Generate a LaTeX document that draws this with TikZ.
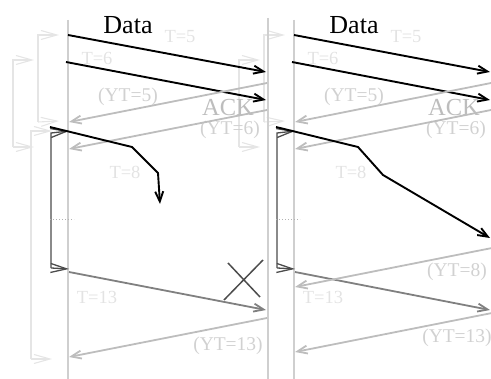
\documentclass[tikz,border=0pt]{standalone}
\usepackage{fontspec}
\setmainfont{Liberation Serif}
\usetikzlibrary{arrows.meta}
\definecolor{vlc}{gray}{0.81}
\definecolor{ackc}{gray}{0.74}
\definecolor{faintc}{gray}{0.90}
\definecolor{midc}{gray}{0.50}
\definecolor{darkc}{gray}{0.30}
\definecolor{txtl}{gray}{0.89}
\definecolor{txtm}{gray}{0.82}
\definecolor{ackt}{gray}{0.74}
\tikzset{
  vl/.style={vlc,line width=2.6pt},
  tipa/.style={-{Straight Barb[length=10pt,width=8pt]}},
  tipb/.style={-{Straight Barb[length=16pt,width=9pt]}},
  dat/.style={black,line width=1.9pt,tipa},
  ackl/.style={ackc,line width=1.8pt,tipa},
  midl/.style={midc,line width=1.8pt,tipa},
  fb/.style={faintc,line width=1.1pt},
  db/.style={darkc,line width=1.3pt},
  lblT/.style={text=txtl,font=\fontsize{18.5}{18.5}\selectfont,inner sep=0pt},
  lblY/.style={text=txtm,font=\fontsize{19.5}{19.5}\selectfont,inner sep=0pt},
  lblD/.style={text=black,font=\fontsize{26}{26}\selectfont,inner sep=0pt},
  lblA/.style={text=ackt,font=\fontsize{24.5}{24.5}\selectfont,inner sep=0pt},
}
\newcommand\panelbase[2]{%
  % sender line
  \draw[vl] (68,20) coordinate (#1sa) -- (68,379) coordinate (#1sb);
  % data labels
  \node[lblD] (#1data) at (128,25) {Data};
  \node[lblT] (#1t5) at (180,37) {T=5};
  \node[lblT] (#1t6) at (97,58) {T=6};
  \node[lblY] (#1y5) at (128,97) {(YT=5)};
  \node[lblA] (#1ack) at (228,108) {ACK};
  \node[lblY] (#1y6) at (230,130) {(YT=6)};
  \node[lblT] (#1t8) at (125,172) {T=8};
  \node[lblT] (#1t13) at (97,297) {T=13};
  % data segments
  \coordinate (#1d1a) at (68,35);  \coordinate (#1d1b) at (#2,72);
  \coordinate (#1d2a) at (66,62);  \coordinate (#1d2b) at (#2,100);
  \draw[dat] (#1d1a) -- (#1d1b);
  \draw[dat] (#1d2a) -- (#1d2b);
  % acks
  \coordinate (#1a1a) at (#2+1,83);  \coordinate (#1a1b) at (69,122);
  \coordinate (#1a2a) at (#2+1,110); \coordinate (#1a2b) at (69,149);
  \draw[ackl] (#1a1a) -- (#1a1b);
  \draw[ackl] (#1a2a) -- (#1a2b);
  % dark timer bracket
  \coordinate (#1ka) at (51,133); \coordinate (#1kb) at (51,268);
  \coordinate (#1kc) at (69,131); \coordinate (#1kd) at (69,269);
  \draw[db,tipb] (#1kb) -- (#1ka) -- (#1kc);
  \draw[db,tipb] (#1kb) -- (#1kd);
  \draw[gray!60,line width=1pt,dotted] (50,220) coordinate (#1dta) -- (74,220) coordinate (#1dtb);
  % retransmission
  \coordinate (#1ra) at (69,272); \coordinate (#1rb) at (#2,310);
  \draw[midl] (#1ra) -- (#1rb);
}
\begin{document}
\begin{tikzpicture}[x=1pt,y=-1pt]
\useasboundingbox (0,0) rectangle (491,379);
% faint timer brackets, left panel
\draw[fb,tipb] (38,122) coordinate (fb1b) -- (38,35) coordinate (fb1a) -- (59,35) coordinate (fb1c);
\draw[fb,tipb] (fb1b) -- (59,121) coordinate (fb1d);
\draw[fb,tipb] (13,147) coordinate (fb2b) -- (13,60) coordinate (fb2a) -- (34,60) coordinate (fb2c);
\draw[fb,tipb] (fb2b) -- (34,147) coordinate (fb2d);
\draw[fb,tipb] (31,359) coordinate (fb3b) -- (31,131) coordinate (fb3a) -- (52,131) coordinate (fb3c);
\draw[fb,tipb] (fb3b) -- (52,359) coordinate (fb3d);
% faint timer brackets, right panel
\draw[fb,tipb] (264,122) coordinate (gb1b) -- (264,35) coordinate (gb1a) -- (285,35) coordinate (gb1c);
\draw[fb,tipb] (gb1b) -- (285,121) coordinate (gb1d);
\draw[fb,tipb] (239,147) coordinate (gb2b) -- (239,60) coordinate (gb2a) -- (260,60) coordinate (gb2c);
\draw[fb,tipb] (gb2b) -- (260,147) coordinate (gb2d);
% left receiver line
\draw[vl] (268,18) coordinate (lra) -- (268,379) coordinate (lrb);
% left panel
\panelbase{L}{266}
\coordinate (Lpa) at (50,127); \coordinate (Lpb) at (132,147);
\coordinate (Lpc) at (158,173); \coordinate (Lpd) at (160,204);
\draw[black,line width=1.9pt,tipa] (Lpa) -- (Lpb) -- (Lpc) -- (Lpd);
\draw[darkc,line width=1.5pt] (224,300) coordinate (xa) -- (263,260) coordinate (xb);
\draw[darkc,line width=1.5pt] (228,263) coordinate (xc) -- (260,297) coordinate (xd);
\coordinate (La3a) at (267,318); \coordinate (La3b) at (69,357);
\draw[ackl] (La3a) -- (La3b);
\node[lblY] (Ly13) at (228,346) {(YT=13)};
% right panel
\begin{scope}[xshift=226pt]
\panelbase{R}{264}
\end{scope}
\coordinate (Rpa) at (276,127); \coordinate (Rpb) at (358,147);
\coordinate (Rpc) at (383,175); \coordinate (Rpd) at (490,238);
\draw[black,line width=1.9pt,tipa] (Rpa) -- (Rpb) -- (Rpc) -- (Rpd);
\coordinate (Ra8a) at (492,248); \coordinate (Ra8b) at (295,287);
\draw[ackl] (Ra8a) -- (Ra8b);
\node[lblY] (Ry8) at (457,272) {(YT=8)};
\coordinate (Ra13a) at (492,313); \coordinate (Ra13b) at (295,352);
\draw[ackl] (Ra13a) -- (Ra13b);
\node[lblY] (Ry13) at (457,338) {(YT=13)};
\end{tikzpicture}
\end{document}
